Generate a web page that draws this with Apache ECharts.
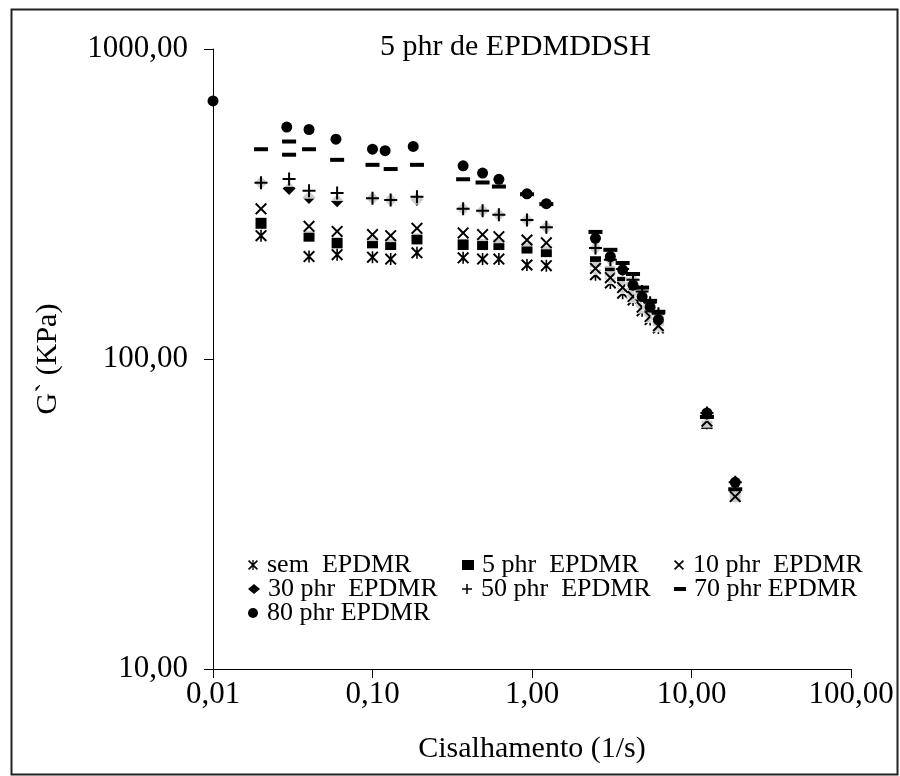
<!DOCTYPE html>
<html>
<head>
<meta charset="utf-8">
<script src="https://cdn.jsdelivr.net/npm/echarts@6/dist/echarts.min.js"></script>
<style>
html,body{margin:0;padding:0;background:#fff;}
#chart{width:900px;height:776px;}
</style>
</head>
<body>
<div id="chart"></div>
<script>
// ---- data ----
const chartTitle = '5 phr de EPDMDDSH';
const xAxisName = 'Cisalhamento (1/s)';
const yAxisName = 'G` (KPa)';
const xTickLabels = ['0,01', '0,10', '1,00', '10,00', '100,00'];
const yTickLabels = ['10,00', '100,00', '1000,00'];
const seriesNames = ['sem  EPDMR', '5 phr  EPDMR', '10 phr  EPDMR', '30 phr  EPDMR', '50 phr  EPDMR', '70 phr EPDMR', '80 phr EPDMR'];

const semX = [0.02, 0.04, 0.06, 0.1, 0.13, 0.19, 0.37, 0.49, 0.62, 0.93, 1.23, 2.5, 3.1, 3.7, 4.3, 4.9, 5.5, 6.2, 12.5, 18.8];
const semY = [250, 214, 217, 213, 210, 220, 212, 210, 210, 201, 200, 187, 176, 163, 155, 143, 134, 126, 62, 36];

const phr5X = [0.02, 0.04, 0.06, 0.1, 0.13, 0.19, 0.37, 0.49, 0.62, 0.93, 1.23, 2.5, 3.1, 3.7, 4.3, 4.9, 5.5, 6.2, 12.5, 18.8];
const phr5Y = [274, 249, 237, 237, 234, 244, 234, 234, 234, 228, 222, 206, 192, 178, 166, 153, 143, 133, 62, 36];

const phr10X = [0.02, 0.04, 0.06, 0.1, 0.13, 0.19, 0.37, 0.49, 0.62, 0.93, 1.23, 2.5, 3.1, 3.7, 4.3, 4.9, 5.5, 6.2, 12.5, 18.8];
const phr10Y = [305, 268, 258, 252, 250, 264, 255, 252, 248, 242, 237, 196, 183, 170, 159, 147, 137, 128, 63, 36];

const phr30X = [0.02, 0.03, 0.04, 0.06, 0.1, 0.13, 0.19, 0.37, 0.49, 0.62, 0.93, 1.23, 2.5, 3.1, 3.7, 4.3, 4.9, 5.5, 6.2, 12.5, 18.8];
const phr30Y = [370, 355, 332, 324, 330, 326, 327, 305, 301, 292, 281, 266, 228, 209, 195, 180, 165, 152, 140, 67, 40];

const phr50X = [0.02, 0.03, 0.04, 0.06, 0.1, 0.13, 0.19, 0.37, 0.49, 0.62, 0.93, 1.23, 2.5, 3.1, 3.7, 4.3, 4.9, 5.5, 6.2, 12.5, 18.8];
const phr50Y = [370, 381, 349, 343, 330, 326, 334, 305, 301, 292, 281, 266, 228, 209, 195, 180, 165, 152, 140, 67, 40];

const phr70X = [0.02, 0.03, 0.03, 0.04, 0.06, 0.1, 0.13, 0.19, 0.37, 0.49, 0.62, 0.93, 1.23, 2.5, 3.1, 3.7, 4.3, 4.9, 5.5, 6.2, 12.5, 18.8];
const phr70Y = [475, 503, 456, 475, 439, 423, 410, 423, 380, 371, 360, 340, 316, 257, 225, 204, 188, 170, 154, 142, 65, 38];

const phr80X = [0.01, 0.029, 0.04, 0.059, 0.1, 0.12, 0.18, 0.37, 0.49, 0.62, 0.93, 1.23, 2.5, 3.1, 3.7, 4.3, 4.9, 5.5, 6.2, 12.5, 18.8];
const phr80Y = [680, 560, 550, 512, 475, 470, 485, 420, 398, 380, 341, 317, 245, 214, 194, 173, 159, 147, 134, 67, 40];

// ---- styling ----
const FONT = '"Liberation Serif", "Times New Roman", serif';
const P_PLUS = 'path://M5.5,0H7.5V5.5H13V7.5H7.5V13H5.5V7.5H0V5.5H5.5Z';
const P_CROSS = 'path://M0,1.4L1.4,0L6,4.6L10.6,0L12,1.4L7.4,6L12,10.6L10.6,12L6,7.4L1.4,12L0,10.6L4.6,6Z';
const P_STAR = 'path://M0,1.4L1.4,0L6,4.6L10.6,0L12,1.4L7.4,6L12,10.6L10.6,12L6,7.4L1.4,12L0,10.6L4.6,6Z M5.2,0H6.8V12H5.2Z';
const P_DASH = 'path://M0,0H12V4H0Z';

const defs = [
  {x: semX, y: semY, symbol: P_STAR, size: 12, bg: 13, icon: P_STAR},
  {x: phr5X, y: phr5Y, symbol: 'rect', size: 11, bg: 0, icon: 'rect'},
  {x: phr10X, y: phr10Y, symbol: P_CROSS, size: 12, bg: 13, icon: P_CROSS},
  {x: phr30X, y: phr30Y, symbol: 'diamond', size: 13, bg: 0, icon: 'diamond'},
  {x: phr50X, y: phr50Y, symbol: P_PLUS, size: 13, bg: 16, icon: P_PLUS},
  {x: phr70X, y: phr70Y, symbol: 'rect', size: [14, 4], bg: 0, icon: P_DASH},
  {x: phr80X, y: phr80Y, symbol: 'circle', size: 11, bg: 0, icon: 'circle'}
];

const pairs = (xs, ys) => xs.map((v, i) => [v, ys[i]]);

const series = [];
defs.forEach((d, i) => {
  const data = pairs(d.x, d.y);
  if (d.bg) {
    series.push({
      type: 'scatter', name: '_bg' + i, data: data, symbol: 'rect', symbolSize: d.bg,
      itemStyle: {color: '#fff'}, silent: true, emphasis: {disabled: true}
    });
  }
  series.push({
    type: 'scatter', name: seriesNames[i], data: data, symbol: d.symbol, symbolSize: d.size,
    itemStyle: {color: '#000', opacity: 1}, emphasis: {disabled: true}
  });
});

// legend positions: [iconCenterX, rowCenterY]
const legendPos = [[254, 566], [468, 566], [680, 566], [254, 590], [468, 590], [680, 590], [254, 614]];
const legends = defs.map((d, i) => ({
  data: [{name: seriesNames[i], icon: d.icon}],
  left: legendPos[i][0] - 6,
  top: legendPos[i][1] - 14,
  itemWidth: 12, itemHeight: 10,
  padding: 0,
  selectedMode: false,
  textStyle: {fontFamily: FONT, fontSize: 26, color: '#000', padding: [0, 0, 0, 3]},
  itemStyle: {color: '#000'}
}));

const chart = echarts.init(document.getElementById('chart'), null, {renderer: 'canvas'});
chart.setOption({
  animation: false,
  backgroundColor: '#fff',
  title: {
    text: chartTitle, left: 380, top: 32, padding: 0,
    textStyle: {fontFamily: FONT, fontSize: 30, fontWeight: 'normal', color: '#000'}
  },
  legend: legends,
  grid: {left: 213, right: 49, top: 49, bottom: 107},
  xAxis: {
    type: 'log', logBase: 10, min: 0.01, max: 100,
    name: xAxisName, nameLocation: 'middle', nameGap: 65,
    nameTextStyle: {fontFamily: FONT, fontSize: 30, color: '#000'},
    axisLine: {show: true, lineStyle: {color: '#000', width: 1}},
    axisTick: {show: true, inside: false, length: 9, lineStyle: {color: '#000'}},
    minorTick: {show: false},
    splitLine: {show: false},
    axisLabel: {
      margin: 10, fontFamily: FONT, fontSize: 31, color: '#000',
      formatter: v => xTickLabels[Math.round(Math.log10(v)) + 2]
    }
  },
  yAxis: {
    type: 'log', logBase: 10, min: 10, max: 1000,
    name: yAxisName, nameLocation: 'middle', nameGap: 150, nameRotate: 90,
    nameTextStyle: {fontFamily: FONT, fontSize: 30, color: '#000'},
    axisLine: {show: true, lineStyle: {color: '#000', width: 1}},
    axisTick: {show: true, inside: false, length: 9, lineStyle: {color: '#000'}},
    minorTick: {show: false},
    splitLine: {show: false},
    axisLabel: {
      margin: 25, fontFamily: FONT, fontSize: 31, color: '#000',
      formatter: v => yTickLabels[Math.round(Math.log10(v)) - 1]
    }
  },
  graphic: [{
    type: 'rect', left: 9, top: 7, silent: true,
    shape: {width: 886, height: 765},
    style: {fill: 'none', stroke: '#222', lineWidth: 2}
  }],
  series: series
});
</script>
</body>
</html>
